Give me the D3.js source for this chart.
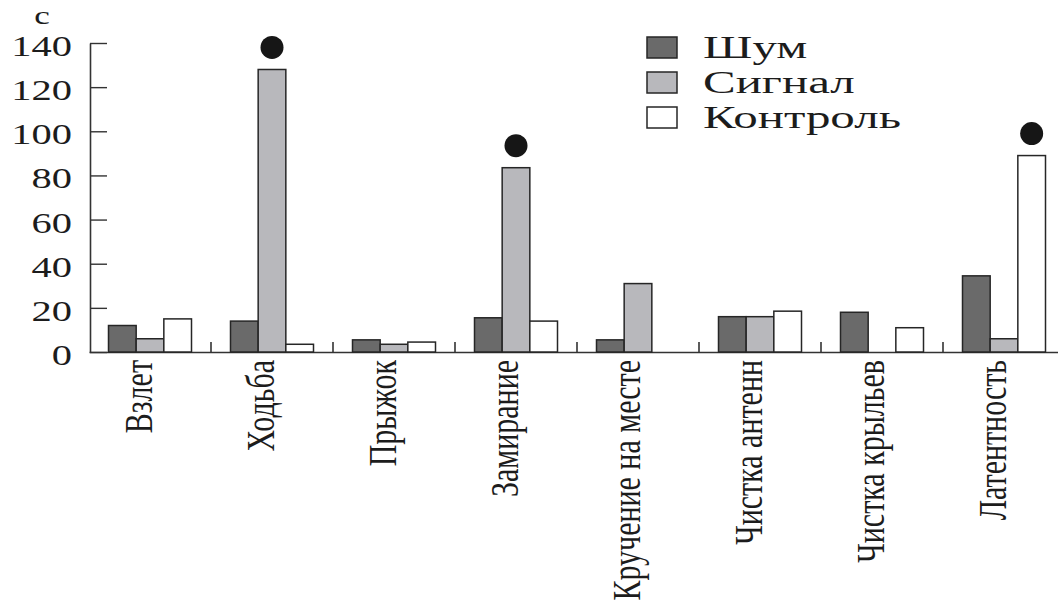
<!DOCTYPE html>
<html>
<head>
<meta charset="utf-8">
<script src="https://cdn.jsdelivr.net/npm/d3@7"></script>
<style>
  body { margin: 0; background: #fff; }
  svg text { font-family: "Liberation Serif", serif; fill: #1c1c1c; }
</style>
</head>
<body>
<svg id="chart"></svg>
<script>
// данные
const categories = ["Взлет", "Ходьба", "Прыжок", "Замирание", "Кручение на месте", "Чистка антенн", "Чистка крыльев", "Латентность"];
const series = ["Шум", "Сигнал", "Контроль"];
const shum     = [12, 14, 5.5, 15.5, 5.5, 16, 18, 34.5];
const signal   = [6, 128, 3.5, 83.5, 31, 16, 0, 6];
const kontrol  = [15, 3.5, 4.5, 14, 0, 18.5, 11, 89];
const yTicks = [0, 20, 40, 60, 80, 100, 120, 140];
// значимые отличия (точки над столбцами)
const signif = [
  { cat: "Ходьба", s: "Сигнал" },
  { cat: "Замирание", s: "Сигнал" },
  { cat: "Латентность", s: "Контроль" }
];

const values = { "Шум": shum, "Сигнал": signal, "Контроль": kontrol };
const rows = categories.map((c, i) => ({ cat: c, vals: series.map(s => ({ s, v: values[s][i] })) }));

const W = 1058, H = 607;
const svg = d3.select("#chart").attr("width", W).attr("height", H);

const x = d3.scaleBand().domain(categories).range([89, 1065]).padding(0);
const groupW = 83;
const xs = d3.scaleBand().domain(series)
  .range([(x.bandwidth() - groupW) / 2, (x.bandwidth() + groupW) / 2]);
const y = d3.scaleLinear().domain([0, 140]).range([352, 43]);

const color = d3.scaleOrdinal().domain(series).range(["#6a6a6a", "#b8b8bc", "#ffffff"]);

// ось Y
const yAxis = svg.append("g")
  .attr("transform", "translate(90,0)")
  .call(d3.axisLeft(y).tickValues(yTicks).tickSizeInner(-17).tickSizeOuter(0));
yAxis.attr("font-family", null);
yAxis.select(".domain").attr("stroke", "#333").attr("stroke-width", 1.6);
yAxis.selectAll(".tick line").attr("stroke", "#333").attr("stroke-width", 1.4);
yAxis.selectAll(".tick text")
  .attr("x", 0).attr("dy", "0.35em")
  .attr("transform", "translate(-18,2) scale(1.35,1)")
  .style("font-size", "30px");

svg.append("text")
  .attr("transform", "translate(42,24) scale(1.35,1)")
  .attr("text-anchor", "middle")
  .style("font-size", "26px")
  .text("с");

// ось X
const xAxis = svg.append("g")
  .attr("transform", `translate(0,${y(0)})`)
  .call(d3.axisBottom(x).tickSize(0).tickSizeOuter(0));
xAxis.attr("font-family", null);
xAxis.select(".domain").attr("stroke", "#333").attr("stroke-width", 1.6);
xAxis.selectAll(".tick text")
  .attr("y", 0).attr("dy", 0)
  .attr("text-anchor", "end")
  .attr("transform", "translate(2,8) scale(1.3,1) rotate(-90)")
  .style("font-size", "30px");

// разделители групп
svg.selectAll(".sep")
  .data(categories.slice(1))
  .enter().append("line")
  .attr("x1", d => x(d)).attr("x2", d => x(d))
  .attr("y1", y(0)).attr("y2", y(0) - 10)
  .attr("stroke", "#333").attr("stroke-width", 1.6);

// столбцы
const g = svg.selectAll(".grp")
  .data(rows)
  .enter().append("g")
  .attr("transform", d => `translate(${x(d.cat)},0)`);

g.selectAll("rect")
  .data(d => d.vals.filter(e => e.v > 0))
  .enter().append("rect")
  .attr("x", d => xs(d.s))
  .attr("y", d => y(d.v))
  .attr("width", xs.bandwidth())
  .attr("height", d => y(0) - y(d.v))
  .attr("fill", d => color(d.s))
  .attr("stroke", "#262626")
  .attr("stroke-width", 1.5);

// точки
svg.selectAll(".dot")
  .data(signif)
  .enter().append("circle")
  .attr("cx", d => x(d.cat) + xs(d.s) + xs.bandwidth() / 2)
  .attr("cy", d => y(values[d.s][categories.indexOf(d.cat)]) - 22)
  .attr("r", 11.5)
  .attr("fill", "#161616");

// легенда
const leg = svg.append("g").attr("transform", "translate(647,37)");
const li = leg.selectAll("g")
  .data(series)
  .enter().append("g")
  .attr("transform", (d, i) => `translate(0,${i * 35})`);
li.append("rect")
  .attr("width", 30).attr("height", 21)
  .attr("fill", d => color(d))
  .attr("stroke", "#262626").attr("stroke-width", 1.5);
li.append("text")
  .attr("transform", "translate(56,21) scale(1.58,1)")
  .style("font-size", "31px")
  .text(d => d);
</script>
</body>
</html>
